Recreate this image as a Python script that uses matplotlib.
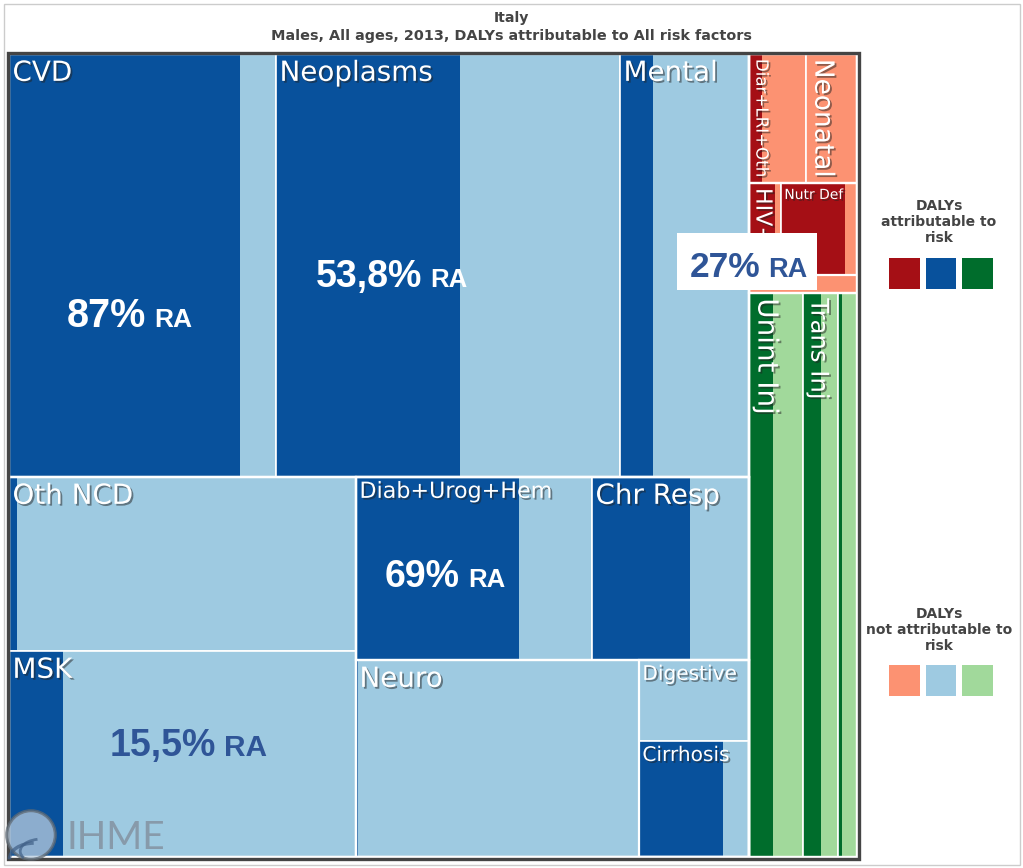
import matplotlib
matplotlib.use("Agg")
import matplotlib.pyplot as plt
import matplotlib.patheffects as pe
from matplotlib.patches import Rectangle, Circle, Arc
from matplotlib.transforms import offset_copy

W, H = 1023, 868

# DALYs (thousands), Italy males, all ages, 2013
causes = ["CVD", "Neoplasms", "Mental", "Oth NCD", "MSK", "Diab+Urog+Hem",
          "Chr Resp", "Neuro", "Digestive", "Cirrhosis",
          "Diar+LRI+Oth", "Neonatal", "HIV+TB", "Nutr Def", "Oth Comm",
          "Unint Inj", "Trans Inj", "Intent Inj"]
attributable = [1303, 1038, 186, 19, 148, 398, 239, 5, 1, 130,
                22, 0, 32, 78, 0, 180, 135, 30]
not_attributable = [203, 902, 541, 786, 805, 178, 144, 738, 118, 40,
                    76, 88, 7, 15, 27, 226, 128, 113]
groups = ["ncd"] * 10 + ["comm"] * 5 + ["inj"] * 3

labels = ["CVD", "Neoplasms", "Mental", "Oth NCD", "MSK", "Diab+Urog+Hem",
          "Chr Resp", "Neuro", "Digestive", "Cirrhosis",
          "Diar+LRI+Oth", "Neonatal", "HIV+TB", "Nutr Def", "",
          "Unint Inj", "Trans Inj", ""]
label_size = [20, 20, 20, 20, 20, 16, 20, 20, 14.5, 14.5,
              12, 19, 16, 10, 10, 20, 17.5, 10]
label_rot = [0, 0, 0, 0, 0, 0, 0, 0, 0, 0,
             -90, -90, -90, 0, 0, -90, -90, 0]

# percent risk attributable notes
ra_text = ["87%", "53,8%", "69%", "15,5%", "27%"]
ra_pos = [(67, 327), (316, 287), (385, 587), (110, 756), (690, 277)]
ra_color = ["white", "white", "white", "#2f5597", "#2f5597"]
ra_size = [28.5, 27, 27, 27, 25.5]
ra_small = [19, 18.5, 18.5, 21.5, 19.5]

dark = {"ncd": "#08519c", "comm": "#a50f15", "inj": "#006d2c"}
light = {"ncd": "#9ecae1", "comm": "#fc9272", "inj": "#a1d99b"}

# nesting of the treemap: 'h' = side by side, 'v' = stacked
tree = ("h", [
    ("v", [
        ("h", ["CVD", "Neoplasms", "Mental"]),
        ("h", [("v", ["Oth NCD", "MSK"]),
               ("v", [("h", ["Diab+Urog+Hem", "Chr Resp"]),
                      ("h", ["Neuro", ("v", ["Digestive", "Cirrhosis"])])])]),
    ]),
    ("v", [
        ("v", [("h", ["Diar+LRI+Oth", "Neonatal"]),
               ("h", ["HIV+TB", "Nutr Def"]),
               "Oth Comm"]),
        ("h", ["Unint Inj", "Trans Inj", "Intent Inj"]),
    ]),
])

total = {c: a + n for c, a, n in zip(causes, attributable, not_attributable)}


def size(node):
    if isinstance(node, str):
        return total[node]
    return sum(size(k) for k in node[1])


def layout(node, x, y, w, h, out, blocks):
    if isinstance(node, str):
        out[node] = (x, y, w, h)
        return
    d, kids = node
    tot = size(node)
    pos = 0.0
    for k in kids:
        f = size(k) / tot
        if d == "h":
            layout(k, x + pos * w, y, f * w, h, out, blocks)
        else:
            layout(k, x, y + pos * h, w, f * h, out, blocks)
        pos += f
    blocks.append((x, y, w, h))


rects, blocks = {}, []
layout(tree, 0, 0, 1, 1, rects, blocks)

fig = plt.figure(figsize=(W / 100, H / 100), dpi=100)
fig.patch.set_facecolor("white")


def fx(px):
    return px / W


def fy(py):
    return 1 - py / H


ax = fig.add_axes([fx(9), fy(857), fx(857) - fx(9), fy(54) - fy(857)])
ax.set_xlim(0, 1)
ax.set_ylim(1, 0)
ax.axis("off")

shadow = [pe.withSimplePatchShadow(offset=(1.3, -1.3), shadow_rgbFace="#222222", alpha=0.5)]

for i, c in enumerate(causes):
    x, y, w, h = rects[c]
    frac = attributable[i] / total[c]
    g = groups[i]
    ax.add_patch(Rectangle((x, y), w * frac, h, facecolor=dark[g], edgecolor="none"))
    ax.add_patch(Rectangle((x + w * frac, y), w * (1 - frac), h, facecolor=light[g], edgecolor="none"))
    cell = Rectangle((x, y), w, h, facecolor="none", edgecolor="white", linewidth=1.2)
    ax.add_patch(cell)
    if labels[i]:
        tr = offset_copy(ax.transData, fig=fig, x=2.5, y=-3.5, units="points")
        t = ax.text(x, y, labels[i], transform=tr, color="white", fontsize=label_size[i],
                    rotation=label_rot[i], ha="left", va="top", path_effects=shadow)
        t.set_clip_path(cell)

for (x, y, w, h) in blocks[:-1]:
    ax.add_patch(Rectangle((x, y), w, h, facecolor="none", edgecolor="white", linewidth=1.6))

# frame round the treemap
fig.patches.append(Rectangle((fx(7.5), fy(858.5)), fx(858.5) - fx(7.5), fy(52.5) - fy(858.5),
                             transform=fig.transFigure, facecolor="none",
                             edgecolor="#444444", linewidth=2.4, zorder=5))
fig.patches.append(Rectangle((fx(3.5), fy(864.5)), fx(1019.5) - fx(3.5), fy(3.5) - fy(864.5),
                             transform=fig.transFigure, facecolor="none",
                             edgecolor="#cccccc", linewidth=1.0))

# white box behind the 27% note
fig.patches.append(Rectangle((fx(677), fy(290)), fx(817) - fx(677), fy(233) - fy(290),
                             transform=fig.transFigure, facecolor="white",
                             edgecolor="none", zorder=6))

fig.canvas.draw()
for s, (px, py), col, fs, fs2 in zip(ra_text, ra_pos, ra_color, ra_size, ra_small):
    t = fig.text(fx(px), fy(py), s, color=col, fontsize=fs, fontweight="bold",
                 family="Liberation Sans", ha="left", va="baseline", zorder=7)
    bb = t.get_window_extent(renderer=fig.canvas.get_renderer())
    fig.text(bb.x1 / W + fx(8), fy(py), "RA", color=col, fontsize=fs2, fontweight="bold",
             family="Liberation Sans", ha="left", va="baseline", zorder=7)

# titles
fig.text(0.5, fy(18), "Italy", ha="center", va="center", fontsize=10.2,
         fontweight="bold", color="#444444")
fig.text(0.5, fy(36), "Males, All ages, 2013, DALYs attributable to All risk factors",
         ha="center", va="center", fontsize=10.4, fontweight="bold", color="#444444")

# legend
legend_titles = ["DALYs\nattributable to\nrisk", "DALYs\nnot attributable to\nrisk"]
legend_y = [222, 630]
swatch_y = [258, 665]
for k, (ttl, ty, sy) in enumerate(zip(legend_titles, legend_y, swatch_y)):
    fig.text(fx(939), fy(ty), ttl, ha="center", va="center", fontsize=10,
             fontweight="bold", color="#444444", linespacing=1.2)
    cols = dark if k == 0 else light
    for j, g in enumerate(["comm", "ncd", "inj"]):
        x0 = 889 + j * 36.5
        fig.patches.append(Rectangle((fx(x0), fy(sy + 31)), fx(30.5), 31 / H,
                                     transform=fig.transFigure, facecolor=cols[g],
                                     edgecolor="none"))

# IHME logo (watermark)
lax = fig.add_axes([fx(4), fy(862), fx(54), 54 / H], zorder=8)
lax.set_xlim(-1, 1)
lax.set_ylim(-1, 1)
lax.set_aspect("equal")
lax.axis("off")
lax.add_patch(Circle((0, 0), 0.9, facecolor="#b9cde0", edgecolor="#5f6a74",
                     linewidth=2.2, alpha=0.75))
lax.add_patch(Arc((0.1, -0.9), 1.8, 1.2, theta1=90, theta2=180, color="#3f5f86", lw=2.5, alpha=0.7))
lax.add_patch(Arc((0.4, -0.6), 1.6, 0.9, theta1=110, theta2=200, color="#3f5f86", lw=2, alpha=0.7))
fig.text(fx(67), fy(838), "IHME", ha="left", va="center", fontsize=28,
         family="Lato", fontweight="normal", color="#8595a4", alpha=0.9, zorder=8)

fig.savefig("out.png", dpi=100)
